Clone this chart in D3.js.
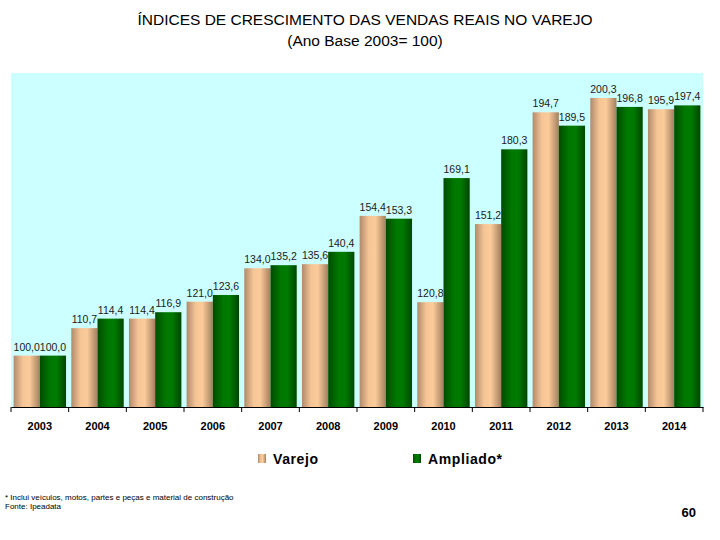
<!DOCTYPE html>
<html>
<head>
<meta charset="utf-8">
<script src="https://cdn.jsdelivr.net/npm/d3@7"></script>
<style>
  html, body { margin: 0; padding: 0; background: #ffffff; }
  svg { display: block; font-family: "Liberation Sans", Arial, sans-serif; }
</style>
</head>
<body>
<svg id="chart" width="720" height="540"></svg>
<script>
const years = ["2003","2004","2005","2006","2007","2008","2009","2010","2011","2012","2013","2014"];
const varejo = [100.0, 110.7, 114.4, 121.0, 134.0, 135.6, 154.4, 120.8, 151.2, 194.7, 200.3, 195.9];
const ampliado = [100.0, 114.4, 116.9, 123.6, 135.2, 140.4, 153.3, 169.1, 180.3, 189.5, 196.8, 197.4];
const seriesNames = ["Varejo", "Ampliado*"];
const titleLines = ["ÍNDICES DE CRESCIMENTO DAS VENDAS REAIS NO VAREJO", "(Ano Base 2003= 100)"];
const footnotes = ["* Inclui veículos, motos, partes e peças e material de construção", "Fonte: Ipeadata"];
const pageNumber = "60";

const svg = d3.select("#chart");
const plot = { left: 11, right: 703, top: 73, bottom: 407 };

const defs = svg.append("defs");
function hGrad(id, stops) {
  const g = defs.append("linearGradient").attr("id", id)
    .attr("x1", "0%").attr("x2", "100%").attr("y1", "0%").attr("y2", "0%");
  stops.forEach(s => g.append("stop").attr("offset", s[0]).attr("stop-color", s[1]));
}
hGrad("gVarejo", [["0%", "#b08a6c"], ["35%", "#f6c596"], ["60%", "#fccb9a"], ["100%", "#a3805f"]]);
hGrad("gAmpl", [["0%", "#004c00"], ["40%", "#007800"], ["65%", "#007a00"], ["100%", "#004600"]]);

// Titles
svg.selectAll("text.title").data(titleLines).enter().append("text")
  .attr("class", "title")
  .attr("x", 365).attr("y", (d, i) => 25 + i * 21)
  .attr("text-anchor", "middle")
  .attr("font-size", 15.5).attr("fill", "#000")
  .text(d => d);

// Plot background
svg.append("rect")
  .attr("x", plot.left).attr("y", plot.top)
  .attr("width", plot.right - plot.left).attr("height", plot.bottom - plot.top)
  .attr("fill", "#ccffff");

const x0 = d3.scaleBand().domain(years).range([plot.left, plot.right]).paddingInner(0).paddingOuter(0);
const x1 = d3.scaleBand().domain([0, 1]).range([0, x0.bandwidth()]).paddingOuter(0.1).paddingInner(0);
const y = d3.scaleLinear().domain([80, 210]).range([plot.bottom, plot.top]);

const series = [
  { name: seriesNames[0], values: varejo, fill: "url(#gVarejo)" },
  { name: seriesNames[1], values: ampliado, fill: "url(#gAmpl)" }
];

const barsG = svg.append("g");
series.forEach((s, si) => {
  barsG.selectAll(null).data(s.values).enter().append("rect")
    .attr("x", (d, i) => x0(years[i]) + x1(si))
    .attr("y", d => y(d))
    .attr("width", x1.bandwidth())
    .attr("height", d => y(80) - y(d))
    .attr("fill", s.fill);
});

// value labels
const fmt = v => d3.format(".1f")(v).replace(".", ",");
series.forEach((s, si) => {
  barsG.selectAll(null).data(s.values).enter().append("text")
    .attr("x", (d, i) => x0(years[i]) + x1(si) + x1.bandwidth() / 2)
    .attr("y", d => y(d) - 5)
    .attr("text-anchor", "middle")
    .attr("font-size", 10.5)
    .attr("fill", "#1a1a1a")
    .text(d => fmt(d));
});

// Axis
const axis = d3.axisBottom(x0).tickSize(0).tickPadding(15);
const axG = svg.append("g").attr("transform", `translate(0,${plot.bottom})`).call(axis);
axG.select(".domain").attr("stroke", "#000").attr("stroke-width", 1.2);
axG.selectAll(".tick text").attr("font-size", 11).attr("font-weight", "bold")
  .attr("fill", "#000").attr("font-family", "'Liberation Sans', Arial, sans-serif");
// boundary ticks
const bounds = years.map(yr => x0(yr)).concat([plot.right]);
axG.selectAll("line.bound").data(bounds).enter().append("line")
  .attr("class", "bound")
  .attr("x1", d => d).attr("x2", d => d)
  .attr("y1", 0).attr("y2", 5)
  .attr("stroke", "#000").attr("stroke-width", 1);

// Legend
const legendItems = [
  { name: seriesNames[0], x: 258, fill: "url(#gVarejo)" },
  { name: seriesNames[1], x: 413, fill: "url(#gAmpl)" }
];
const lg = svg.append("g");
legendItems.forEach(it => {
  lg.append("rect").attr("x", it.x).attr("y", 454).attr("width", 8).attr("height", 9).attr("fill", it.fill);
  lg.append("text").attr("x", it.x + 15).attr("y", 464)
    .attr("font-size", 14).attr("font-weight", "bold").attr("fill", "#000")
    .attr("letter-spacing", 0.6)
    .text(it.name);
});

// Footnotes
svg.selectAll("text.foot").data(footnotes).enter().append("text")
  .attr("class", "foot")
  .attr("x", 5).attr("y", (d, i) => 500 + i * 9)
  .attr("font-size", 8).attr("fill", "#000")
  .text(d => d);

svg.append("text").attr("x", 696).attr("y", 517)
  .attr("text-anchor", "end")
  .attr("font-size", 13).attr("font-weight", "bold").attr("fill", "#000")
  .text(pageNumber);
</script>
</body>
</html>
